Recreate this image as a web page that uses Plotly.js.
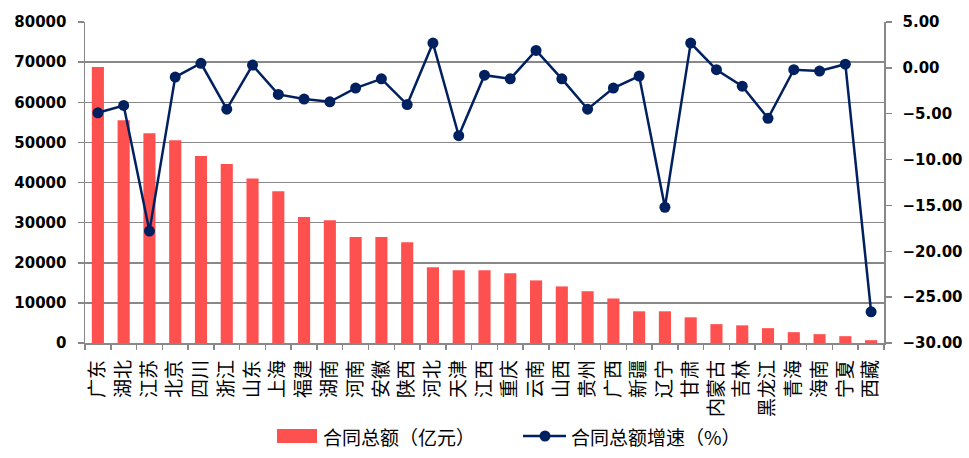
<!DOCTYPE html>
<html>
<head>
<meta charset="utf-8">
<script src="https://cdn.plot.ly/plotly-3.0.1.min.js"></script>
<style>html,body{margin:0;padding:0;background:#fff;}#chart{width:969px;height:458px;}</style>
</head>
<body>
<div id="chart"></div>
<script>
var provinces = ["广东","湖北","江苏","北京","四川","浙江","山东","上海","福建","湖南","河南","安徽","陕西","河北","天津","江西","重庆","云南","山西","贵州","广西","新疆","辽宁","甘肃","内蒙古","吉林","黑龙江","青海","海南","宁夏","西藏"];
var contractTotal = [68800,55500,52300,50500,46600,44600,41000,37800,31400,30600,26400,26400,25100,18900,18100,18100,17400,15600,14100,12900,11100,7900,7900,6400,4700,4400,3700,2700,2200,1700,700];
var growthRate = [-4.9,-4.1,-17.8,-1.0,0.5,-4.5,0.3,-2.9,-3.4,-3.7,-2.2,-1.2,-4.0,2.7,-7.4,-0.8,-1.2,1.9,-1.2,-4.5,-2.2,-0.9,-15.2,2.7,-0.2,-2.0,-5.5,-0.2,-0.35,0.4,-26.6];
var barName = "合同总额（亿元）";
var lineName = "合同总额增速（%）";

var cjk = '"Noto Sans CJK SC", "Noto Sans", sans-serif';
var num = '"DejaVu Sans", sans-serif';
var gray = '#888888';
var barColor = '#FF5050';
var lineColor = '#002060';

var W = 969, H = 458, ML = 85, MR = 85, MT = 22, MB = 115;
var PW = W - ML - MR, PH = H - MT - MB;
function px(x){ return (x - ML) / PW; }
function py(y){ return (H - MB - y) / PH; }

var traces = [
  {type:'bar', x:provinces, y:contractTotal, name:barName, marker:{color:barColor}, yaxis:'y', showlegend:false},
  {type:'scatter', mode:'lines+markers', x:provinces, y:growthRate, name:lineName, yaxis:'y2', showlegend:false,
   line:{color:lineColor, width:2.5}, marker:{color:lineColor, size:11}}
];

// custom legend (swatches drawn in paper coordinates)
var legY = 436;
var shapes = [
  {type:'rect', xref:'paper', yref:'paper', x0:px(277), x1:px(317), y0:py(443), y1:py(429),
   fillcolor:barColor, line:{width:0}},
  {type:'line', xref:'paper', yref:'paper', x0:px(523), x1:px(566), y0:py(legY), y1:py(legY),
   line:{color:lineColor, width:2.5}},
  {type:'circle', xref:'paper', yref:'paper', x0:px(539.5), x1:px(550.5), y0:py(441.5), y1:py(430.5),
   fillcolor:lineColor, line:{width:0}}
];
var annotations = [
  {xref:'paper', yref:'paper', x:px(321), y:py(legY), xanchor:'left', yanchor:'middle', showarrow:false,
   text:barName, font:{family:cjk, size:19, color:'#000'}},
  {xref:'paper', yref:'paper', x:px(569), y:py(legY), xanchor:'left', yanchor:'middle', showarrow:false,
   text:lineName, font:{family:cjk, size:19, color:'#000'}}
];

var layout = {
  width:W, height:H,
  margin:{l:ML, r:MR, t:MT, b:MB, autoexpand:false},
  paper_bgcolor:'#fff', plot_bgcolor:'#fff',
  bargap:0.53,
  showlegend:false,
  shapes:shapes,
  annotations:annotations,
  xaxis:{type:'category', range:[-0.5, provinces.length-0.5], tickangle:-90, tickfont:{family:cjk, size:19, color:'#000'}, automargin:false,
         showline:true, linecolor:gray, linewidth:1.5, ticks:'outside', ticklen:5, tickcolor:gray, tickwidth:1.5,
         tickson:'boundaries', showgrid:false, ticklabelstandoff:8},
  yaxis:{range:[0,80000], dtick:10000, tickformat:'d', showgrid:true, gridcolor:gray, gridwidth:1.5, automargin:false,
         showline:true, linecolor:gray, linewidth:1.5, ticks:'outside', ticklen:6, tickcolor:gray, tickwidth:1.5,
         tickfont:{family:num, size:15, color:'#000', weight:'bold'}, zeroline:false, ticklabelstandoff:8},
  yaxis2:{range:[-30,5], dtick:5, tickformat:'.2f', overlaying:'y', side:'right', showgrid:false, zeroline:false, automargin:false,
          showline:true, linecolor:gray, linewidth:1.5, ticks:'outside', ticklen:6, tickcolor:gray, tickwidth:1.5,
          tickfont:{family:num, size:15, color:'#000', weight:'bold'}, ticklabelstandoff:8}
};

Plotly.newPlot('chart', traces, layout, {displayModeBar:false, staticPlot:true});
</script>
</body>
</html>
